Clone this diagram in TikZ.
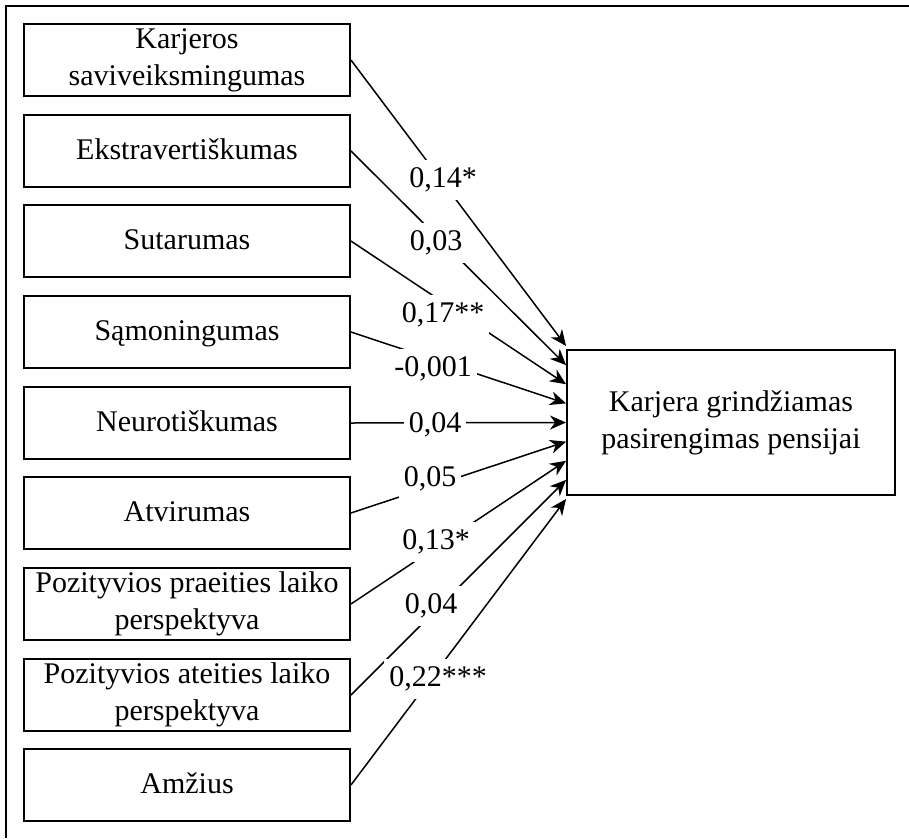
\documentclass[tikz,border=0pt]{standalone}
\usepackage{fontspec}
\setmainfont{Liberation Serif}
\usetikzlibrary{arrows.meta,calc}
\begin{document}
\begin{tikzpicture}[x=1pt,y=-1pt,
  every node/.style={font=\fontsize{30}{37}\selectfont},
  factor/.style={draw, line width=1.9pt, minimum width=326pt, minimum height=72pt,
    align=center, inner sep=0pt},
  oneline/.style={text height=21pt, text depth=5pt},
  outcome/.style={draw, line width=1.9pt, minimum width=328pt, minimum height=145pt,
    align=center},
  coef/.style={fill=white, inner xsep=5pt, inner ysep=7pt, text height=20pt, text depth=6pt},
  effect/.style={line width=1.5pt, -{Stealth[length=16pt,width=14pt,inset=5pt]}},
  frameline/.style={line width=2pt}
]
\useasboundingbox (0,0) rectangle (909,838);

% frame along the top and left edges
\draw[frameline] (6,838) -- (6,6) -- (909,6);

% predictors
\node[factor] (f1) at (187,60) {Karjeros\\saviveiksmingumas};
\node[factor,oneline] (f2) at (187,151) {Ekstravertiškumas};
\node[factor,oneline] (f3) at (187,241) {Sutarumas};
\node[factor,oneline] (f4) at (187,332) {Sąmoningumas};
\node[factor,oneline] (f5) at (187,423) {Neurotiškumas};
\node[factor,oneline] (f6) at (187,513) {Atvirumas};
\node[factor] (f7) at (187,604) {Pozityvios praeities laiko\\perspektyva};
\node[factor] (f8) at (187,695) {Pozityvios ateities laiko\\perspektyva};
\node[factor,oneline] (f9) at (187,785) {Amžius};

% outcome
\node[outcome] (y) at (731,422.5) {Karjera grindžiamas\\pasirengimas pensijai};

% arrow end points spread along the left side of the outcome box
\foreach \k in {1,...,9}
  \coordinate (t\k) at ($(y.west)+(0,{19.125*(\k-5)})$);

% paths
\foreach \k in {1,...,9}
  \draw[effect] (f\k.east) -- (t\k);

% coefficients
\node[coef] (c1) at (443,180) {0,14*};
\node[coef] (c2) at (436,243) {0,03};
\node[coef] (c3) at (443,315) {0,17**};
\node[coef] (c4) at (433,369) {-0,001};
\node[coef] (c5) at (435,425) {0,04};
\node[coef] (c6) at (430,479) {0,05};
\node[coef] (c7) at (436,542) {0,13*};
\node[coef] (c8) at (431,606) {0,04};
\node[coef] (c9) at (438,679) {0,22***};
\end{tikzpicture}
\end{document}
